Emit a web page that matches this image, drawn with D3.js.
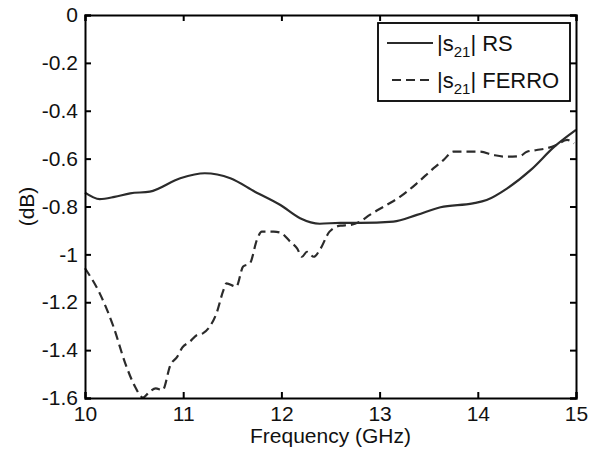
<!DOCTYPE html>
<html>
<head>
<meta charset="utf-8">
<script src="https://cdn.jsdelivr.net/npm/d3@7/dist/d3.min.js"></script>
<style>
  body { margin: 0; background: #fff; }
  text { font-family: "Liberation Sans", Arial, sans-serif; fill: #111; }
</style>
</head>
<body>
<div id="chart"></div>
<script>
// frequency (GHz) and |s21| (dB)
var freqRS = [10.00, 10.15, 10.30, 10.46, 10.66, 10.97, 11.22, 11.48, 11.73, 11.99, 12.19, 12.39,
              12.60, 12.80, 13.14, 13.38, 13.62, 13.95, 14.09, 14.30, 14.54, 14.78, 15.00];
var s21RS = [-0.742, -0.769, -0.760, -0.745, -0.738, -0.682, -0.661, -0.682, -0.738, -0.794, -0.849, -0.872,
             -0.868, -0.868, -0.863, -0.835, -0.803, -0.787, -0.773, -0.724, -0.647, -0.550, -0.480];

var freqFerro = [10.00, 10.15, 10.29, 10.41, 10.51, 10.59, 10.66, 10.72, 10.79, 10.87, 10.94, 10.99,
                 11.07, 11.14, 11.20, 11.27, 11.34, 11.41, 11.44, 11.54, 11.61, 11.68, 11.75, 11.80,
                 11.92, 11.99, 12.09, 12.16, 12.21, 12.26, 12.33, 12.39, 12.49, 12.60, 12.70, 12.80,
                 12.90, 13.07, 13.21, 13.38, 13.55, 13.65, 13.75, 13.89, 14.02, 14.16, 14.29, 14.43,
                 14.50, 14.60, 14.70, 14.80, 14.91, 14.98];
var s21Ferro = [-1.058, -1.163, -1.302, -1.455, -1.553, -1.598, -1.573, -1.560, -1.567, -1.462, -1.427, -1.390,
                -1.364, -1.337, -1.330, -1.302, -1.245, -1.149, -1.121, -1.135, -1.051, -1.037, -0.940, -0.905,
                -0.905, -0.909, -0.947, -0.975, -1.010, -0.989, -1.010, -0.982, -0.905, -0.880, -0.877, -0.863,
                -0.835, -0.794, -0.759, -0.703, -0.640, -0.606, -0.571, -0.571, -0.571, -0.585, -0.592, -0.589,
                -0.571, -0.564, -0.557, -0.543, -0.522, -0.536];

var xTicks = [10, 11, 12, 13, 14, 15];
var yTicks = [0, -0.2, -0.4, -0.6, -0.8, -1, -1.2, -1.4, -1.6];
var yTickLabels = ["0", "-0.2", "-0.4", "-0.6", "-0.8", "-1", "-1.2", "-1.4", "-1.6"];
var legendNames = ["RS", "FERRO"];

var width = 594, height = 452;
var m = { left: 85, right: 576, top: 15, bottom: 398 };

var svg = d3.select("#chart").append("svg")
    .attr("width", width)
    .attr("height", height);

var x = d3.scaleLinear().domain([10, 15]).range([m.left, m.right]);
var y = d3.scaleLinear().domain([-1.6, 0]).range([m.bottom, m.top]);

// curves
var line = d3.line()
    .x(function(d) { return x(d[0]); })
    .y(function(d) { return y(d[1]); })
    .curve(d3.curveMonotoneX);

var rsData = freqRS.map(function(f, i) { return [f, s21RS[i]]; });
var ferroData = freqFerro.map(function(f, i) { return [f, s21Ferro[i]]; });

svg.append("path")
    .datum(rsData)
    .attr("d", line)
    .attr("fill", "none")
    .attr("stroke", "#2b2b2b")
    .attr("stroke-width", 2.2);

svg.append("path")
    .datum(ferroData)
    .attr("d", line)
    .attr("fill", "none")
    .attr("stroke", "#2b2b2b")
    .attr("stroke-width", 2.2)
    .attr("stroke-dasharray", "9,5");

// axes (ticks inward, box on all sides)
var xAxis = d3.axisBottom(x).tickValues(xTicks).tickSize(-6).tickPadding(8).tickFormat(d3.format("d"));
var yAxis = d3.axisLeft(y).tickValues(yTicks).tickSize(-6).tickPadding(7)
    .tickFormat(function(d, i) { return yTickLabels[i]; });

var gx = svg.append("g")
    .attr("transform", "translate(0," + m.bottom + ")")
    .call(xAxis);
var gy = svg.append("g")
    .attr("transform", "translate(" + m.left + ",0)")
    .call(yAxis);

svg.append("g")
    .attr("transform", "translate(0," + m.top + ")")
    .call(d3.axisTop(x).tickValues(xTicks).tickSize(-6).tickFormat(""));
svg.append("g")
    .attr("transform", "translate(" + m.right + ",0)")
    .call(d3.axisRight(y).tickValues(yTicks).tickSize(-6).tickFormat(""));

svg.selectAll(".domain").attr("stroke", "#000").attr("stroke-width", 2);
svg.selectAll(".tick line").attr("stroke", "#000").attr("stroke-width", 2);
svg.selectAll(".tick text").attr("font-size", "21px").attr("fill", "#111");
gx.selectAll(".tick text").attr("dy", "0.71em");

// axis titles
svg.append("text")
    .attr("x", (m.left + m.right) / 2)
    .attr("y", 443)
    .attr("text-anchor", "middle")
    .attr("font-size", "21px")
    .text("Frequency (GHz)");

svg.append("text")
    .attr("transform", "translate(34," + (m.top + m.bottom) / 2 + ") rotate(-90)")
    .attr("text-anchor", "middle")
    .attr("font-size", "21px")
    .text("(dB)");

// legend
var legend = svg.append("g");
legend.append("rect")
    .attr("x", 378).attr("y", 23)
    .attr("width", 192).attr("height", 78)
    .attr("fill", "#fff")
    .attr("stroke", "#000")
    .attr("stroke-width", 1.8);

var rows = legend.selectAll(".row")
    .data(legendNames)
    .enter()
    .append("g")
    .attr("class", "row")
    .attr("transform", function(d, i) { return "translate(0," + (43 + i * 37) + ")"; });

rows.append("line")
    .attr("x1", function(d, i) { return i === 0 ? 387 : 392; })
    .attr("x2", 433)
    .attr("y1", 0).attr("y2", 0)
    .attr("stroke", "#2b2b2b")
    .attr("stroke-width", 2.2)
    .attr("stroke-dasharray", function(d, i) { return i === 0 ? null : "9,5"; });

var label = rows.append("text")
    .attr("x", 437)
    .attr("y", 8)
    .attr("font-size", "22px");
label.append("tspan").text("|s");
label.append("tspan").attr("font-size", "15px").attr("dy", 6).text("21");
label.append("tspan").attr("dy", -6).text(function(d) { return "| " + d; });
</script>
</body>
</html>
